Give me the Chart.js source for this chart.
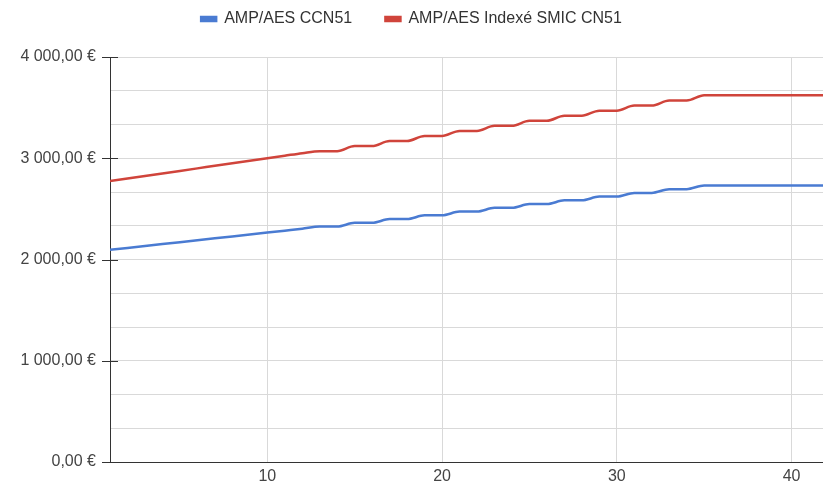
<!DOCTYPE html>
<html>
<head>
<meta charset="utf-8">
<script src="https://cdn.jsdelivr.net/npm/chart.js@4.4.1/dist/chart.umd.min.js"></script>
<style>
    html, body { margin: 0; padding: 0; background: #fff; }
    #wrap { width: 823px; height: 488px; }
</style>
</head>
<body>
<div id="wrap"><canvas id="salaryChart"></canvas></div>
<script>
// years of seniority
const years = [1, 2, 3, 4, 5, 6, 7, 8, 9, 10, 11, 12, 13, 14, 15, 16, 17, 18, 19, 20, 21,
    22, 23, 24, 25, 26, 27, 28, 29, 30, 31, 32, 33, 34, 35, 36, 37, 38, 39, 40, 41, 42];

// AMP/AES CCN51
const ccn51 = [2095, 2114, 2133, 2152, 2171, 2190, 2209, 2228, 2247, 2266, 2285, 2304,
    2325, 2325, 2362, 2362, 2399, 2399, 2436, 2436, 2473, 2473, 2510, 2510, 2547, 2547,
    2584, 2584, 2621, 2621, 2658, 2658, 2695, 2695, 2732, 2732, 2732, 2732, 2732, 2732, 2732, 2732];

// AMP/AES Indexé SMIC CN51
const smicIndexed = [2775, 2800, 2825, 2850, 2875, 2900, 2925, 2950, 2975, 3000, 3025, 3050,
    3070, 3070, 3120, 3120, 3170, 3170, 3220, 3220, 3270, 3270, 3320, 3320, 3370, 3370,
    3420, 3420, 3470, 3470, 3520, 3520, 3570, 3570, 3622, 3622, 3622, 3622, 3622, 3622, 3622, 3622];

const xTickValues = [10, 20, 30, 40];
const yMajorTicks = [0, 1000, 2000, 3000, 4000];

const FONT = 'Liberation Sans';

function euro(v) {
    const int = Math.round(v).toString().replace(/\B(?=(\d{3})+(?!\d))/g, ' ');
    return int + ',00 €';
}

// short black tick marks across the y axis
const yTickMarks = {
    id: 'yTickMarks',
    afterDraw(chart) {
        const ctx = chart.ctx, y = chart.scales.y, left = chart.chartArea.left;
        ctx.save();
        ctx.strokeStyle = '#333';
        ctx.lineWidth = 1;
        yMajorTicks.forEach(t => {
            const py = Math.round(y.getPixelForValue(t)) + 0.5;
            ctx.beginPath();
            ctx.moveTo(left - 8, py);
            ctx.lineTo(left + 8, py);
            ctx.stroke();
        });
        ctx.restore();
    }
};

new Chart(document.getElementById('salaryChart'), {
    type: 'line',
    data: {
        labels: years,
        datasets: [{
            label: 'AMP/AES CCN51',
            data: years.map((x, i) => ({ x: x, y: ccn51[i] })),
            xAxisID: 'x',
            yAxisID: 'y',
            borderColor: '#4a7bd2',
            backgroundColor: '#4a7bd2',
            borderWidth: 2.5,
            pointRadius: 0,
            cubicInterpolationMode: 'monotone'
        }, {
            label: 'AMP/AES Indexé SMIC CN51',
            data: years.map((x, i) => ({ x: x, y: smicIndexed[i] })),
            xAxisID: 'x',
            yAxisID: 'y',
            borderColor: '#d0443b',
            backgroundColor: '#d0443b',
            borderWidth: 2.5,
            pointRadius: 0,
            cubicInterpolationMode: 'monotone'
        }]
    },
    options: {
        responsive: true,
        maintainAspectRatio: false,
        animation: false,
        layout: { padding: 0 },
        plugins: {
            tooltip: { enabled: false },
            legend: {
                position: 'top',
                labels: {
                    boxWidth: 15,
                    boxHeight: 4,
                    padding: 11,
                    color: '#333',
                    font: { family: FONT, size: 16 },
                    generateLabels: chart => {
                        const items = Chart.defaults.plugins.legend.labels.generateLabels(chart);
                        // wider gap between the two entries
                        items[0].text += '     ';
                        return items;
                    }
                }
            }
        },
        scales: {
            // empty band between legend and plot
            gap: {
                type: 'linear',
                axis: 'x',
                position: 'top',
                display: true,
                min: 0,
                max: 1,
                afterFit: s => { s.height = 20; },
                grid: { display: false },
                border: { display: false },
                ticks: { display: false }
            },
            x: {
                type: 'linear',
                min: 1,
                max: 41.8,
                afterBuildTicks: s => { s.ticks = xTickValues.map(v => ({ value: v })); },
                afterFit: s => { s.height = 26; },
                grid: { color: '#d9d9d9', drawTicks: false },
                border: { color: '#333', width: 1 },
                ticks: {
                    padding: 5,
                    color: '#444',
                    font: { family: FONT, size: 16 },
                    maxRotation: 0
                }
            },
            y: {
                min: 0,
                max: 4000,
                afterBuildTicks: s => {
                    const t = [];
                    for (let i = 0; i <= 12; i++) t.push({ value: i * 1000 / 3 });
                    s.ticks = t;
                },
                afterFit: s => { s.width = 110; },
                grid: { color: '#d9d9d9', drawTicks: false },
                border: { color: '#333', width: 1 },
                ticks: {
                    padding: 14,
                    color: '#444',
                    font: { family: FONT, size: 16 },
                    callback: v => {
                        const r = Math.round(v);
                        return yMajorTicks.includes(r) && Math.abs(v - r) < 0.01 ? euro(r) : '';
                    }
                }
            }
        }
    },
    plugins: [yTickMarks]
});
</script>
</body>
</html>
